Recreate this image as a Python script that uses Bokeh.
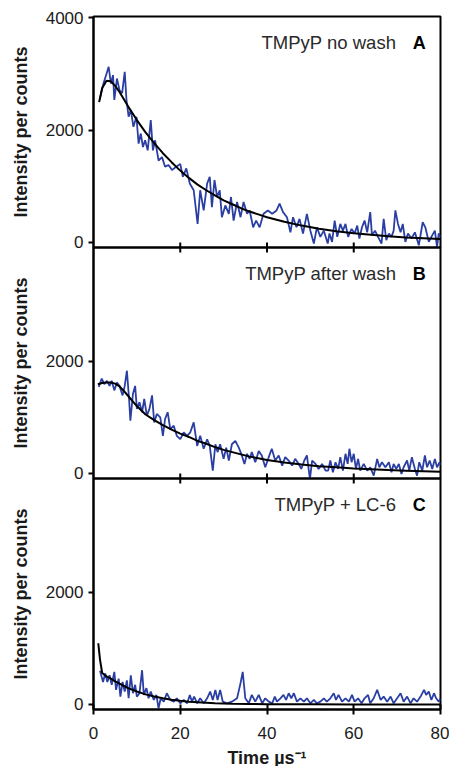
from bokeh.plotting import figure
from bokeh.models import Range1d, FixedTicker, Label
from bokeh.layouts import column
from bokeh.embed import file_html
from bokeh.resources import INLINE

# ---------------- data ----------------
x_ticks = [0, 20, 40, 60, 80]
y_ticks_a = [0, 2000, 4000]
y_ticks_bc = [0, 2000]

titles = ["TMPyP no wash", "TMPyP after wash", "TMPyP + LC-6"]
letters = ["A", "B", "C"]

time_a = [1.4, 2.3, 3.5, 4.0, 4.5, 4.8, 5.4, 6.0, 6.6, 7.2,
          7.6, 8.1, 8.6, 9.2, 9.9, 10.4, 10.9, 11.4, 11.9, 12.5,
          13.2, 13.7, 14.2, 15.0, 15.8, 16.5, 17.3, 18.1, 19.1, 20.0,
          20.6, 21.4, 22.2, 23.1, 24.0, 24.6, 25.4, 26.2, 26.8, 27.3,
          27.9, 28.5, 29.1, 29.6, 30.4, 31.2, 31.7, 32.3, 33.1, 33.9,
          34.6, 35.4, 36.0, 36.8, 37.5, 38.3, 39.2, 40.2, 41.2, 42.2,
          42.9, 43.7, 44.6, 45.4, 46.0, 46.8, 47.5, 48.3, 49.2, 50.0,
          50.8, 51.5, 52.3, 53.1, 54.0, 54.4, 55.0, 55.6, 56.2, 56.9,
          57.5, 58.1, 58.7, 59.5, 60.2, 60.8, 61.3, 61.9, 62.5, 63.1,
          63.8, 64.2, 64.9, 65.6, 66.4, 66.9, 67.5, 68.1, 68.7, 69.2,
          69.6, 70.2, 70.8, 71.3, 71.9, 72.5, 73.3, 74.1, 75.0, 75.9,
          76.5, 77.3, 77.9, 78.7, 79.2, 79.6, 80.0]
trace_a = [2540, 2830, 3130, 2830, 2980, 2540, 2920, 2710, 2660, 3040,
           2540, 2240, 2360, 2060, 2240, 1760, 1940, 1700, 1820, 1640,
           2180, 1640, 1820, 1460, 1520, 1350, 1380, 1290, 1350, 1400,
           1170, 1320, 1050, 930, 330, 930, 570, 1050, 1170, 630,
           1110, 810, 930, 450, 660, 510, 810, 390, 720, 450,
           720, 510, 570, 270, 390, 270, 510, 570, 510, 570,
           690, 540, 450, 180, 450, 270, 420, 160, 510, 210,
           -20, 270, 100, 210, -20, 160, 10, 390, 100, 330,
           210, 330, 100, 240, 160, 300, 70, 270, 390, 180,
           540, 130, 210, 100, -20, 420, 40, 160, 100, 210,
           570, 330, 180, 330, 10, 160, 70, 180, -50, 360,
           270, 10, 100, 210, -80, 160, 100]
fit_time_a = [1.3, 2, 3, 4, 5, 6, 8, 10, 12, 14, 16, 18, 20, 22, 24, 26, 28,
              30, 32, 34, 36, 38, 40, 44, 48, 52, 56, 60, 64, 68, 72, 76, 80]
fit_a = [2500, 2750, 2880, 2870, 2790, 2680, 2420, 2180, 1960, 1770, 1590,
         1430, 1280, 1150, 1030, 930, 840, 750, 680, 610, 550, 500, 450,
         370, 300, 245, 200, 165, 135, 110, 90, 75, 60]

time_b = [1.2, 1.9, 2.5, 3.1, 3.7, 4.2, 4.8, 5.4, 6.0, 6.7,
          7.2, 7.7, 8.2, 8.5, 9.1, 9.6, 10.0, 10.6, 11.2, 11.7,
          12.3, 12.9, 13.5, 14.0, 14.6, 15.4, 16.0, 16.5, 17.1, 17.7,
          18.5, 19.2, 20.0, 20.8, 21.6, 22.3, 23.1, 23.9, 24.6, 25.4,
          26.2, 26.8, 27.5, 28.1, 28.6, 29.2, 30.0, 30.6, 31.2, 31.9,
          32.7, 33.5, 34.2, 34.8, 35.4, 36.0, 36.5, 37.3, 38.1, 38.8,
          39.6, 40.4, 41.1, 41.9, 42.7, 43.5, 44.2, 45.0, 45.8, 46.5,
          47.3, 47.9, 48.6, 49.2, 49.9, 50.4, 51.2, 51.9, 52.7, 53.5,
          54.1, 54.6, 55.2, 55.8, 56.4, 56.9, 57.5, 58.1, 58.6, 59.0,
          59.5, 60.0, 60.5, 61.0, 61.5, 62.3, 63.1, 63.8, 64.6, 65.4,
          65.9, 66.5, 67.3, 68.1, 68.7, 69.2, 69.8, 70.4, 71.0, 71.5,
          72.3, 72.8, 73.4, 74.1, 74.6, 75.1, 75.8, 76.4, 76.9, 77.5,
          78.1, 78.7, 79.2, 79.8, 80.0]
trace_b = [1540, 1690, 1590, 1650, 1560, 1650, 1480, 1620, 1560, 1390,
           1560, 1830, 1330, 940, 1420, 1560, 1150, 1270, 1090, 1330,
           1030, 1150, 1390, 910, 1060, 1000, 670, 970, 1090, 790,
           850, 670, 610, 730, 670, 730, 910, 490, 670, 440,
           610, 490, 50, 520, 380, 520, 260, 460, 230, 520,
           580, 460, 320, 170, 350, 260, 380, 200, 400, 320,
           110, 290, 440, 230, 320, 140, 290, 230, 140, 260,
           170, 80, 230, 320, -100, 230, 170, 80, 170, 50,
           50, 230, 20, 200, 80, 290, 50, 350, 170, 440,
           200, 350, 80, 260, 50, 170, 50, 110, -40, 260,
           110, 200, 110, 200, 20, 170, 80, 170, -10, 110,
           230, 50, 290, 80, -40, 200, 50, 320, 110, 230,
           80, 260, 110, 200, 150]
fit_time_b = [1, 2, 3, 4, 5, 6, 7, 8, 9, 10, 12, 14, 16, 18, 20, 22, 24, 26,
              28, 30, 32, 34, 36, 38, 40, 44, 48, 52, 56, 60, 64, 68, 72, 76, 80]
fit_b = [1590, 1610, 1620, 1620, 1600, 1550, 1470, 1380, 1290, 1200, 1050,
         950, 860, 780, 710, 650, 580, 530, 470, 420, 380, 340, 300, 270,
         240, 195, 160, 130, 110, 90, 75, 60, 50, 40, 30]

time_c = [1.5, 2.2, 2.7, 3.2, 3.7, 4.2, 4.8, 5.2, 5.8, 6.2,
          6.7, 7.2, 7.7, 8.1, 8.6, 9.1, 9.6, 10.0, 10.6, 11.2,
          11.6, 12.2, 12.7, 13.2, 13.9, 14.5, 15.0, 15.5, 16.2, 16.9,
          17.7, 18.5, 19.2, 20.0, 20.8, 21.6, 22.2, 22.7, 23.2, 23.9,
          24.6, 25.4, 26.2, 26.9, 27.5, 28.1, 28.6, 29.2, 29.8, 30.8,
          31.9, 33.1, 33.9, 34.4, 35.0, 35.8, 36.5, 37.3, 38.1, 38.9,
          39.6, 40.4, 41.2, 41.8, 42.3, 43.1, 43.8, 44.4, 45.0, 45.6,
          46.2, 46.9, 47.7, 48.5, 49.2, 50.0, 50.8, 51.5, 52.3, 53.1,
          53.8, 54.6, 55.4, 55.9, 56.5, 57.3, 58.1, 58.9, 59.6, 60.2,
          61.0, 61.8, 62.5, 63.3, 63.8, 64.6, 65.4, 66.2, 66.9, 67.7,
          68.5, 69.2, 70.0, 70.8, 71.5, 72.3, 73.1, 73.8, 74.6, 75.4,
          76.2, 76.7, 77.3, 77.9, 78.5, 79.0, 79.6, 80.0]
trace_c = [600, 400, 550, 400, 520, 350, 580, 260, 460, 140,
           400, 230, 430, 110, 520, 200, 350, 140, 200, 610,
           170, 290, 110, 230, 80, 170, -70, 110, 50, 200,
           80, 50, 110, 20, 80, 20, 170, 50, 140, 20,
           110, 20, 110, 230, 80, 260, 80, 260, 50, 20,
           50, 110, 380, 580, 110, 20, 170, 50, 170, 20,
           110, 50, 20, 140, 50, 110, 170, 80, 200, 110,
           200, 50, 110, 50, 110, 20, 80, 20, 50, 110,
           50, 110, 200, 80, 170, 50, 110, 50, 170, 50,
           110, 20, 110, 170, 20, 110, 260, 80, 140, 50,
           140, 20, 110, 200, 50, 140, 20, 110, 50, 140,
           260, 170, 230, 80, 200, 110, 50, 100]
fit_time_c = [1.1, 1.5, 2, 3, 4, 5, 6, 8, 10, 12, 14, 16, 18, 20, 22, 25, 28,
              32, 36, 40, 50, 60, 70, 80]
fit_c = [1090, 800, 560, 500, 460, 410, 370, 290, 230, 180, 140, 110, 85,
         65, 50, 35, 22, 12, 8, 5, 2, 1, 0, 0]

# ---------------- style ----------------
FONT = "Liberation Sans"
BLUE = "#2b3fa3"
INK = "#1a1a1a"
FRAME_W = 347
FRAME_H = 231
Y_START, Y_END = -90, 4025
TICK_PX = 5
OVERLAP = 16


def style_axis(ax):
    ax.axis_label_text_font = FONT
    ax.axis_label_text_font_style = "bold"
    ax.axis_label_text_font_size = "18px"
    ax.axis_label_text_color = INK
    ax.major_label_text_font = FONT
    ax.major_label_text_font_size = "17px"
    ax.major_label_text_color = INK
    ax.minor_tick_in = 0
    ax.minor_tick_out = 0
    ax.axis_line_width = 2
    ax.major_tick_line_width = 2
    ax.axis_line_color = "black"
    ax.major_tick_line_color = "black"


def panel(tx, ty, fx, fy, yticks, idx, first, last):
    p = figure(
        frame_width=FRAME_W, frame_height=FRAME_H,
        x_range=Range1d(0, 80), y_range=Range1d(Y_START, Y_END),
        output_backend="svg", toolbar_location=None,
        x_axis_location="below" if last else None,
        min_border_left=93, min_border_right=9,
        min_border_top=16 if first else OVERLAP,
        min_border_bottom=OVERLAP if not last else 0,
    )
    p.xgrid.visible = False
    p.ygrid.visible = False
    p.outline_line_color = "black"
    p.outline_line_width = 2
    p.outline_line_alpha = 1
    if not first:
        p.margin = (-2 * OVERLAP, 0, 0, 0)
        p.border_fill_alpha = 0
        p.background_fill_alpha = 0

    ya = p.yaxis[0]
    style_axis(ya)
    ya.ticker = FixedTicker(ticks=yticks)
    ya.axis_label = "Intensity per counts"
    ya.axis_label_standoff = 12
    ya.major_label_standoff = 5
    ya.major_tick_in = 0
    ya.major_tick_out = 5

    if last:
        xa = p.below[0]
        style_axis(xa)
        xa.ticker = FixedTicker(ticks=x_ticks)
        xa.axis_label = "Time \u00b5s\u207b\u00b9"
        xa.axis_label_standoff = 6
        xa.major_label_standoff = 12
        xa.major_tick_in = 5
        xa.major_tick_out = 5

    # inner tick marks where panels meet (half-ticks on each side of the joint)
    tick_units = (Y_END - Y_START) / FRAME_H * TICK_PX
    inner = x_ticks[1:-1]
    if not first:
        p.segment(x0=inner, y0=[Y_END - tick_units] * len(inner),
                  x1=inner, y1=[Y_END] * len(inner),
                  line_color="black", line_width=2)
    if not last:
        p.segment(x0=inner, y0=[Y_START] * len(inner),
                  x1=inner, y1=[Y_START + tick_units] * len(inner),
                  line_color="black", line_width=2)

    p.line(tx, ty, line_color=BLUE, line_width=1.8)
    p.line(fx, fy, line_color="black", line_width=2)

    p.add_layout(Label(x=69.8, y=3560, text=titles[idx], text_align="right",
                       text_baseline="middle", text_font=FONT,
                       text_font_size="18.5px", text_color="#2a2a2a"))
    p.add_layout(Label(x=73.6, y=3560, text=letters[idx], text_align="left",
                       text_baseline="middle", text_font=FONT,
                       text_font_style="bold", text_font_size="18px",
                       text_color="black"))
    return p


pa = panel(time_a, trace_a, fit_time_a, fit_a, y_ticks_a, 0, True, False)
pb = panel(time_b, trace_b, fit_time_b, fit_b, y_ticks_bc, 1, False, False)
pc = panel(time_c, trace_c, fit_time_c, fit_c, y_ticks_bc, 2, False, True)

layout = column(pa, pb, pc, spacing=0)

open("out.html", "w").write(file_html(layout, INLINE))
